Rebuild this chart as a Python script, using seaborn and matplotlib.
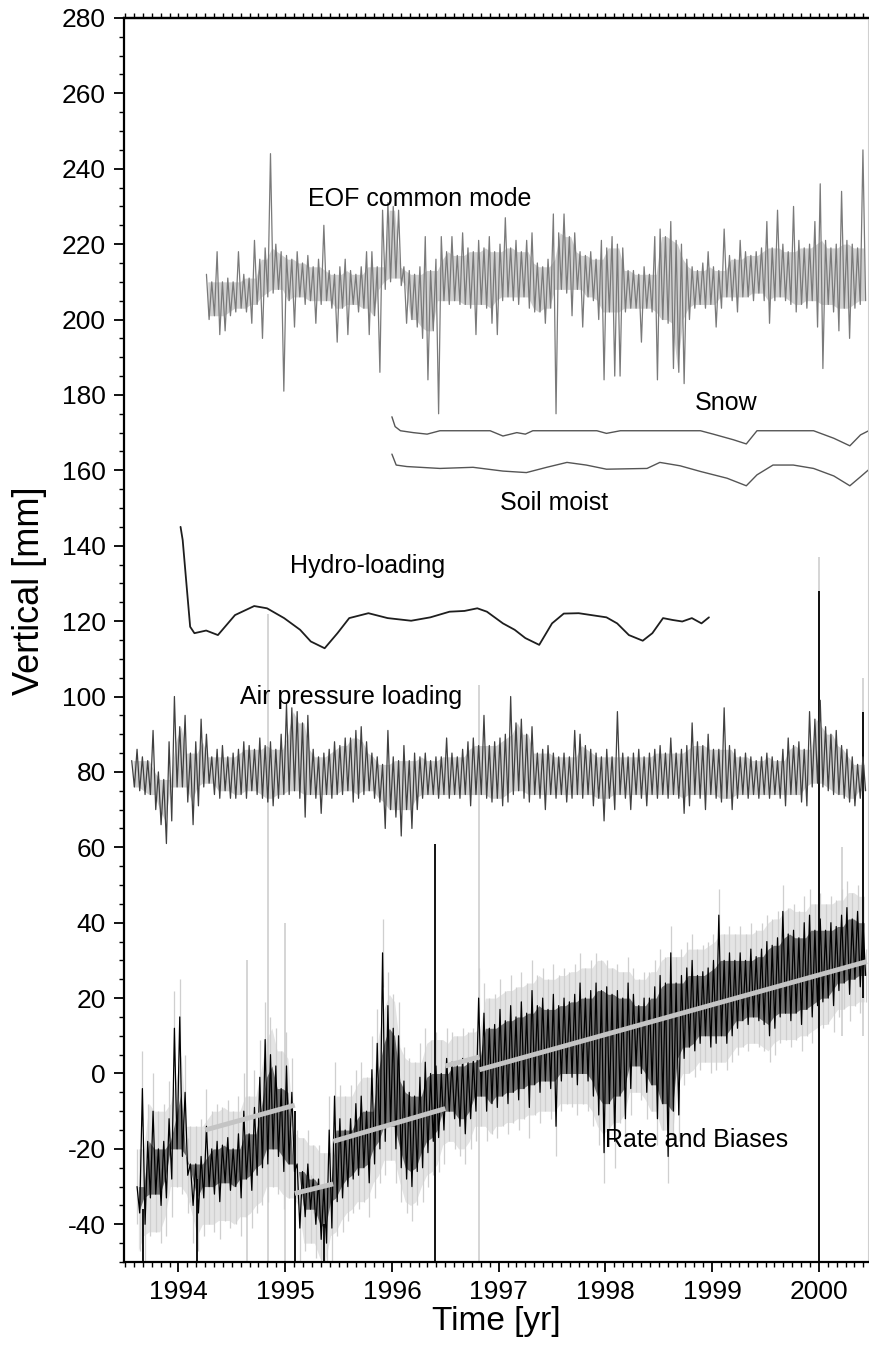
import numpy as np
import pandas as pd
import matplotlib
matplotlib.use("Agg")
import matplotlib.pyplot as plt
import seaborn as sns
from matplotlib.ticker import MultipleLocator, FormatStrFormatter, NullFormatter

# ------------------------------------------------------------------ data
bin_step = 0.05  # yr, width of the envelope bins

# EOF common mode : per-bin upper / lower envelope (mm)
eof_start = 1994.25
eof_hi = [212, 210, 218, 210, 211, 210, 218, 212, 211, 221,
          216, 219, 244, 220, 218, 217, 216, 218, 215, 217,
          214, 216, 225, 213, 212, 214, 216, 213, 212, 214,
          218, 218, 214, 229, 231, 230, 229, 214, 213, 212,
          214, 222, 213, 216, 222, 218, 222, 217, 223, 219,
          218, 221, 219, 222, 218, 220, 227, 219, 221, 218,
          221, 223, 215, 214, 216, 228, 223, 228, 222, 223,
          218, 217, 218, 216, 221, 219, 222, 220, 219, 213,
          213, 212, 214, 212, 222, 224, 222, 226, 221, 220,
          216, 214, 213, 215, 218, 214, 213, 224, 217, 216,
          221, 218, 217, 218, 219, 226, 219, 229, 220, 218,
          230, 221, 219, 220, 226, 236, 221, 219, 220, 234,
          221, 220, 219, 245]
eof_lo = [200, 201, 196, 197, 201, 202, 203, 202, 199, 204,
          195, 206, 207, 208, 181, 205, 198, 206, 204, 205,
          199, 204, 205, 203, 194, 203, 196, 204, 202, 203,
          196, 201, 186, 208, 210, 211, 209, 199, 200, 198,
          195, 184, 197, 175, 205, 204, 205, 204, 204, 203,
          196, 204, 203, 199, 196, 205, 206, 205, 204, 206,
          203, 202, 202, 199, 203, 175, 208, 207, 201, 208,
          198, 206, 205, 200, 184, 202, 185, 185, 202, 203,
          203, 194, 203, 202, 184, 200, 199, 187, 186, 183,
          200, 203, 204, 203, 204, 198, 203, 206, 205, 202,
          206, 206, 205, 207, 205, 199, 205, 206, 205, 204,
          202, 204, 203, 205, 198, 187, 204, 202, 197, 203,
          195, 203, 204, 205]

# Air pressure loading envelope (mm)
air_start = 1993.55
air_hi = [83, 86, 84, 83, 91, 80, 78, 88, 100, 92,
          95, 85, 88, 94, 90, 84, 86, 87, 84, 85,
          86, 88, 87, 86, 89, 87, 88, 86, 90, 98,
          97, 96, 93, 95, 86, 84, 85, 86, 88, 87,
          89, 89, 91, 92, 88, 85, 84, 82, 91, 84,
          83, 87, 83, 85, 84, 85, 83, 84, 84, 89,
          85, 84, 86, 88, 89, 87, 95, 87, 88, 89,
          90, 100, 93, 94, 90, 92, 85, 86, 87, 85,
          84, 85, 84, 91, 90, 87, 86, 85, 84, 86,
          84, 96, 85, 84, 85, 86, 84, 85, 86, 87,
          85, 89, 85, 86, 87, 93, 88, 87, 90, 86,
          86, 97, 87, 86, 84, 85, 84, 83, 84, 85,
          84, 83, 86, 89, 87, 88, 86, 96, 94, 99,
          92, 90, 91, 87, 86, 84, 82, 84]
air_lo = [76, 75, 74, 74, 70, 66, 61, 67, 76, 76,
          72, 66, 71, 76, 77, 74, 73, 75, 73, 73,
          74, 73, 75, 74, 73, 72, 71, 73, 74, 74,
          75, 73, 68, 74, 73, 69, 74, 73, 74, 74,
          75, 72, 73, 74, 75, 73, 72, 65, 70, 68,
          63, 70, 65, 70, 73, 74, 74, 73, 74, 73,
          74, 73, 74, 71, 74, 74, 73, 72, 73, 71,
          72, 74, 75, 73, 72, 74, 73, 70, 74, 73,
          74, 72, 73, 74, 73, 74, 71, 73, 67, 73,
          70, 74, 73, 70, 74, 73, 71, 74, 73, 74,
          73, 74, 73, 69, 71, 74, 73, 70, 74, 73,
          72, 73, 70, 73, 74, 73, 74, 73, 74, 73,
          74, 73, 71, 74, 74, 72, 71, 76, 77, 76,
          75, 74, 74, 73, 72, 71, 73, 75]

# Hydro-loading (smooth)
hydro_years = [1994.02, 1994.04, 1994.08, 1994.11, 1994.15, 1994.26, 1994.37,
               1994.53, 1994.71, 1994.83, 1994.99, 1995.14, 1995.24, 1995.37,
               1995.49, 1995.60, 1995.78, 1995.96, 1996.18, 1996.36, 1996.54,
               1996.68, 1996.80, 1996.89, 1997.04, 1997.15, 1997.25, 1997.38,
               1997.50, 1997.61, 1997.75, 1998.01, 1998.11, 1998.22, 1998.35,
               1998.44, 1998.54, 1998.63, 1998.72, 1998.81, 1998.90, 1998.97]
hydro_vals = [145.0, 141.5, 128.3, 118.5, 116.8, 117.5, 116.3,
              121.6, 124.0, 123.4, 120.8, 117.7, 114.6, 112.8,
              116.8, 120.8, 122.1, 120.8, 120.1, 121.0, 122.5,
              122.7, 123.4, 122.5, 119.4, 117.7, 115.5, 113.7,
              119.4, 122.0, 122.1, 121.0, 119.4, 116.3, 114.8,
              116.8, 120.8, 120.3, 119.9, 120.8, 119.4, 121.0]

# Snow loading
snow_years = [1996.00, 1996.03, 1996.08, 1996.20, 1996.33, 1996.45, 1996.92,
              1997.04, 1997.17, 1997.25, 1997.32, 1997.92, 1998.01, 1998.14,
              1998.89, 1999.01, 1999.20, 1999.32, 1999.42, 1999.95, 2000.14,
              2000.29, 2000.39, 2000.48]
snow_vals = [174.2, 171.6, 170.5, 170.0, 169.6, 170.5, 170.5,
             169.1, 170.0, 169.6, 170.5, 170.5, 169.8, 170.5,
             170.5, 169.6, 168.1, 167.0, 170.5, 170.5, 168.5,
             166.5, 169.4, 170.7]

# Soil moisture loading
soil_years = [1996.00, 1996.04, 1996.14, 1996.45, 1996.76, 1997.04, 1997.26,
              1997.45, 1997.64, 1997.82, 1998.01, 1998.39, 1998.51, 1998.70,
              1998.89, 1999.14, 1999.32, 1999.42, 1999.57, 1999.76, 1999.95,
              2000.14, 2000.29, 2000.39, 2000.48]
soil_vals = [164.3, 161.4, 161.0, 160.5, 160.8, 159.8, 159.4,
             160.8, 162.1, 161.4, 160.3, 160.5, 162.1, 161.2,
             159.7, 157.9, 155.9, 158.8, 161.4, 161.4, 160.5,
             158.5, 155.9, 158.3, 160.5]

# Rate and biases: GPS vertical envelope (mm)
rate_start = 1993.60
rate_hi = [-30, -4, -18, -10, -20, -18, -12, 12, 15, -5,
           -24, -24, -22, -14, -20, -18, -19, -17, -20, -16,
           -10, -16, -9, -1, 9, 5, 2, -4, 2, -5,
           -24, -26, -24, -28, -28, -30, -15, -6, -12, -15,
           -12, -8, -6, -10, 1, 8, 32, 18, 12, 10,
           -2, -5, -6, -1, 3, 0, 2, 0, 4, 3,
           2, 4, 3, 4, 20, 16, 12, 13, 17, 14,
           18, 15, 19, 16, 22, 18, 20, 17, 21, 18,
           20, 19, 21, 24, 20, 22, 24, 22, 23, 21,
           22, 20, 24, 21, 18, 20, 20, 23, 26, 24,
           32, 24, 26, 28, 30, 26, 27, 28, 30, 42,
           30, 32, 30, 32, 30, 33, 31, 33, 35, 34,
           36, 43, 37, 38, 36, 40, 42, 38, 41, 38,
           40, 39, 42, 44, 41, 43, 40]
rate_lo = [-37, -40, -33, -32, -35, -33, -28, -20, -22, -27,
           -35, -37, -33, -30, -32, -34, -29, -31, -30, -33,
           -28, -31, -27, -25, -24, -20, -22, -26, -24, -26,
           -41, -38, -36, -40, -44, -45, -41, -34, -33, -30,
           -28, -27, -25, -29, -24, -20, -18, -14, -20, -25,
           -28, -30, -26, -25, -21, -18, -17, -15, -10, -12,
           -14, -16, -12, -10, -6, -10, -8, -9, -6, -8,
           -5, -7, -4, -9, -3, -5, -2, -4, -14, -2,
           0, -1, -3, 0, -2, -6, -11, -21, -8, -18,
           -6, -12, -4, 2, 0, -5, -3, -12, -8, -22,
           -10, -11, 4, 7, 6, 8, 10, 7, 8, 10,
           8, 10, 12, 14, 13, 15, 14, 13, 10, 12,
           15, 16, 14, 16, 13, 17, 15, 18, 19, 20,
           18, 22, 24, 21, 25, 23, 26]
# formal error (1 sigma, mm) per half year starting 1993.5
sigma_start = 1993.5
sigma_step = 0.5
rate_sigma = [10, 10, 10, 9, 9, 9, 8, 8, 8, 7, 7, 7, 7, 7]

# large outliers (black = position, grey = error bar)
out_years = [1993.67, 1994.17, 1995.09, 1995.36, 1996.40, 2000.00, 2000.41]
out_lo = [-55, -55, -55, -55, -55, -55, 20]
out_hi = [-36, -28, -10, -40, 61, 128, 96]
err_out_years = [1994.64, 1994.84, 1995.00, 1996.82, 2000.00, 2000.22, 2000.41]
err_out_lo = [-55, -55, -55, -55, -55, 10, 10]
err_out_hi = [30, 122, 40, 103, 137, 60, 105]

# rate + offsets model segments
seg_t0 = [1994.25, 1995.09, 1995.45, 1996.50, 1996.82]
seg_t1 = [1995.09, 1995.45, 1996.50, 1996.82, 2000.45]
seg_v0 = [-15.0, -31.8, -18.0, 2.0, 1.0]
seg_v1 = [-8.4, -29.3, -9.3, 4.4, 29.7]

labels = ["EOF common mode", "Snow", "Soil moist", "Hydro-loading",
          "Air pressure loading", "Rate and Biases"]
label_x = [1995.21, 1998.84, 1997.01, 1995.05, 1994.58, 1998.00]
label_y = [232.0, 177.8, 151.4, 134.6, 99.8, -17.6]

year_ticks = [1994, 1995, 1996, 1997, 1998, 1999, 2000]

# ------------------------------------------------------------------ style
sns.set_style("ticks")
plt.rcParams['font.family'] = ['Liberation Sans', 'DejaVu Sans']
plt.rcParams['axes.unicode_minus'] = False
plt.rcParams['text.color'] = 'black'
plt.rcParams['axes.labelcolor'] = 'black'
plt.rcParams['xtick.color'] = 'black'
plt.rcParams['ytick.color'] = 'black'

fig = plt.figure(figsize=(8.7, 13.49), dpi=100)
ax = fig.add_axes([0.1425, 0.0645, 0.8552, 0.9222])


def envelope_series(start, hi, lo):
    t = start + bin_step * np.arange(len(hi))
    tt = np.column_stack([t + 0.25 * bin_step, t + 0.75 * bin_step]).ravel()
    vv = np.column_stack([hi, lo]).ravel().astype(float)
    return pd.DataFrame({"t": tt, "v": vv})


def core_band(start, hi, lo):
    """persistent part of the envelope (single-bin needles removed)"""
    hi = np.asarray(hi, float)
    lo = np.asarray(lo, float)
    hp = np.pad(hi, 1, mode="edge")
    lp = np.pad(lo, 1, mode="edge")
    chi = np.minimum(np.minimum(hp[:-2], hp[1:-1]), hp[2:])
    clo = np.maximum(np.maximum(lp[:-2], lp[1:-1]), lp[2:])
    t = start + bin_step * (np.arange(len(hi)) + 0.5)
    return t, clo, chi


def draw_noisy(start, hi, lo, color, lw, alpha):
    t, clo, chi = core_band(start, hi, lo)
    ax.fill_between(t, clo, chi, color=color, alpha=alpha, lw=0, zorder=2)
    df = envelope_series(start, hi, lo)
    sns.lineplot(data=df, x="t", y="v", ax=ax, color=color, lw=lw,
                 estimator=None, sort=False, zorder=2)
    return df


# ---- rate series: error bars (light grey) behind the positions
rate_df = envelope_series(rate_start, rate_hi, rate_lo)
sig_idx = np.clip(((rate_df["t"] - sigma_start) / sigma_step).astype(int), 0, len(rate_sigma) - 1)
sig = np.asarray(rate_sigma, float)[sig_idx]
rt, rclo, rchi = core_band(rate_start, rate_hi, rate_lo)
rsig = np.asarray(rate_sigma, float)[np.clip(((rt - sigma_start) / sigma_step).astype(int),
                                              0, len(rate_sigma) - 1)]
ax.fill_between(rt, rclo - rsig, rchi + rsig, color="#e4e4e4", lw=0, zorder=0.8)
ax.vlines(rate_df["t"], rate_df["v"] - sig, rate_df["v"] + sig,
          color="#cfcfcf", lw=0.9, zorder=1)
ax.vlines(err_out_years, err_out_lo, err_out_hi, color="#cacaca", lw=1.1, zorder=1)

draw_noisy(rate_start, rate_hi, rate_lo, "black", 0.9, 0.5)
ax.vlines(out_years, out_lo, out_hi, color="black", lw=1.3, zorder=2)

for t0, t1, v0, v1 in zip(seg_t0, seg_t1, seg_v0, seg_v1):
    ax.plot([t0, t1], [v0, v1], color="#c4c4c4", lw=3.5,
            solid_capstyle="butt", zorder=3)

# ---- air pressure
draw_noisy(air_start, air_hi, air_lo, "#404040", 0.9, 0.25)

# ---- hydro
sns.lineplot(x=hydro_years, y=hydro_vals, ax=ax, color="#1e1e1e", lw=1.3,
             estimator=None, sort=False, zorder=2)

# ---- snow / soil
sns.lineplot(x=snow_years, y=snow_vals, ax=ax, color="#555555", lw=1.0,
             estimator=None, sort=False, zorder=2)
sns.lineplot(x=soil_years, y=soil_vals, ax=ax, color="#555555", lw=1.0,
             estimator=None, sort=False, zorder=2)

# ---- EOF
draw_noisy(eof_start, eof_hi, eof_lo, "#7a7a7a", 0.9, 0.35)

for txt, lx, ly in zip(labels, label_x, label_y):
    ax.text(lx, ly, txt, fontsize=18, ha="left", va="center", color="black", zorder=5)

# ------------------------------------------------------------------ axes
ax.set_xlim(1993.49, 2000.46)
ax.set_ylim(-50, 280)
ax.set_xticks(year_ticks)
ax.xaxis.set_major_formatter(FormatStrFormatter("%d"))
ax.xaxis.set_minor_locator(MultipleLocator(1 / 12))
ax.yaxis.set_major_locator(MultipleLocator(20))
ax.yaxis.set_minor_locator(MultipleLocator(5))

ax.tick_params(axis="both", which="major", direction="out", length=7, width=1.3,
               labelsize=19, pad=6, color="black", labelcolor="black")
ax.tick_params(axis="both", which="minor", direction="out", length=3.5, width=1.0,
               color="black")
ax.tick_params(axis="x", which="both", top=False)
ax.tick_params(axis="y", which="both", right=False)

# top axis: only short monthly ticks
top = ax.secondary_xaxis("top")
top.xaxis.set_major_locator(MultipleLocator(1 / 12))
top.xaxis.set_major_formatter(NullFormatter())
top.tick_params(axis="x", which="major", direction="out", length=3.5, width=1.0,
                color="black")
top.spines["top"].set_linewidth(1.6)
top.spines["top"].set_color("black")

for side in ["left", "bottom", "top"]:
    ax.spines[side].set_color("black")
    ax.spines[side].set_linewidth(1.6)
ax.spines["right"].set_color("#d0d0d0")
ax.spines["right"].set_linewidth(0.8)

ax.set_xlabel("Time [yr]", fontsize=24, color="black")
ax.set_ylabel("Vertical [mm]", fontsize=26, color="black")
ax.xaxis.set_label_coords(0.5, -0.035)
ax.yaxis.set_label_coords(-0.103, 0.54)

fig.savefig("out.png", dpi=100)
